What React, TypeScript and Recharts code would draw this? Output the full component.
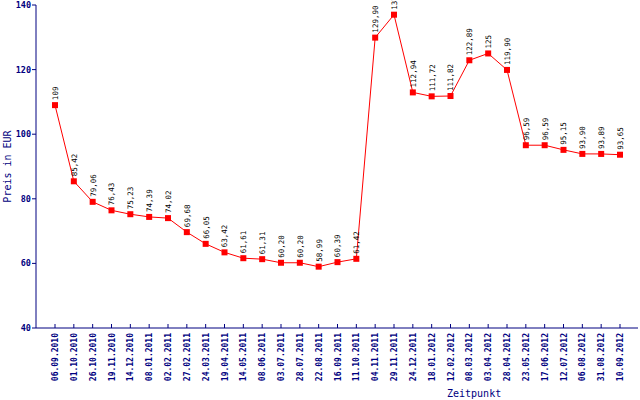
import React from 'react';
import { LineChart, Line, XAxis, YAxis, LabelList } from 'recharts';

const dates = [
  '06.09.2010', '01.10.2010', '26.10.2010', '19.11.2010', '14.12.2010', '08.01.2011',
  '02.02.2011', '27.02.2011', '24.03.2011', '19.04.2011', '14.05.2011', '08.06.2011',
  '03.07.2011', '28.07.2011', '22.08.2011', '16.09.2011', '11.10.2011', '04.11.2011',
  '29.11.2011', '24.12.2011', '18.01.2012', '12.02.2012', '08.03.2012', '03.04.2012',
  '28.04.2012', '23.05.2012', '17.06.2012', '12.07.2012', '06.08.2012', '31.08.2012',
  '10.09.2012',
];

const prices = [
  109, 85.42, 79.06, 76.43, 75.23, 74.39,
  74.02, 69.68, 66.05, 63.42, 61.61, 61.31,
  60.2, 60.2, 58.99, 60.39, 61.42, 129.9,
  137, 112.94, 111.72, 111.82, 122.89, 125,
  119.9, 96.59, 96.59, 95.15, 93.9, 93.89,
  93.65,
];

const yTicks = [40, 60, 80, 100, 120, 140];

const data = dates.map((d, i) => ({ date: d, price: prices[i] }));

const NAVY = '#000080';
const RED = '#ff0000';
const MONO = '"DejaVu Sans Mono", "Liberation Mono", monospace';

const fmt = (v: number) =>
  Number.isInteger(v) ? String(v) : v.toFixed(2).replace('.', ',');

const XTick = (props: any) => {
  const { x, y, payload } = props;
  const tx = x + 3;
  const ty = y + 5;
  return (
    <g>
      <line x1={x} y1={y} x2={x} y2={y - 4} stroke={NAVY} strokeWidth={1} />
      <text
        x={tx}
        y={ty}
        transform={`rotate(-90 ${tx} ${ty})`}
        textAnchor="end"
        fill={NAVY}
        fontFamily={MONO}
        fontSize={8}
        fontWeight="bold"
      >
        {payload.value}
      </text>
    </g>
  );
};

const YTick = (props: any) => {
  const { x, y, payload } = props;
  return (
    <g>
      <line x1={x - 4} y1={y} x2={x} y2={y} stroke={NAVY} strokeWidth={1} />
      <text
        x={x - 5}
        y={y + 3}
        textAnchor="end"
        fill={NAVY}
        fontFamily={MONO}
        fontSize={8.5}
        fontWeight="bold"
      >
        {payload.value}
      </text>
    </g>
  );
};

const DataLabel = (props: any) => {
  const { x, y, value } = props;
  const tx = x + 3;
  const ty = y - 5;
  return (
    <text
      x={tx}
      y={ty}
      transform={`rotate(-90 ${tx} ${ty})`}
      textAnchor="start"
      fill="#000000"
      fontFamily={MONO}
      fontSize={7.5}
    >
      {fmt(value)}
    </text>
  );
};

const SquareDot = (props: any) => {
  const { cx, cy, index } = props;
  return <rect key={`d${index}`} x={cx - 3} y={cy - 3} width={6} height={6} fill={RED} />;
};

const YLabel = (props: any) => {
  const vb = props.viewBox || { x: 0, y: 5, width: 36, height: 323 };
  const tx = vb.x + 11;
  const ty = vb.y + vb.height / 2;
  return (
    <text
      x={tx}
      y={ty}
      transform={`rotate(-90 ${tx} ${ty})`}
      textAnchor="middle"
      fill={NAVY}
      fontFamily={MONO}
      fontSize={10}
    >
      Preis in EUR
    </text>
  );
};

const XLabel = (props: any) => {
  const vb = props.viewBox || { x: 36, y: 328, width: 602, height: 72 };
  return (
    <text
      x={vb.x + 411}
      y={vb.y + 69}
      textAnchor="start"
      fill={NAVY}
      fontFamily={MONO}
      fontSize={10}
    >
      Zeitpunkt
    </text>
  );
};

export default function App() {
  return (
    <div style={{ position: 'absolute', left: 0, top: 0, width: 640, height: 400, background: '#fff' }}>
      <LineChart
        width={640}
        height={400}
        data={data}
        margin={{ top: 5, right: 2, left: 0, bottom: 0 }}
      >
        <XAxis
          dataKey="date"
          type="category"
          height={72}
          interval={0}
          padding={{ left: 19, right: 18 }}
          axisLine={{ stroke: NAVY }}
          tickLine={false}
          tickSize={0}
          tickMargin={0}
          tick={<XTick />}
          label={<XLabel />}
        />
        <XAxis
          xAxisId="top"
          dataKey="date"
          orientation="top"
          height={0}
          tick={false}
          tickLine={false}
          axisLine={{ stroke: NAVY }}
        />
        <YAxis
          width={36}
          domain={[40, 140]}
          ticks={yTicks}
          type="number"
          interval={0}
          axisLine={{ stroke: NAVY }}
          tickLine={false}
          tickSize={0}
          tickMargin={0}
          tick={<YTick />}
          label={<YLabel />}
        />
        <YAxis
          yAxisId="right"
          orientation="right"
          width={0}
          domain={[40, 140]}
          tick={false}
          tickLine={false}
          axisLine={{ stroke: NAVY }}
        />
        <Line
          dataKey="price"
          type="linear"
          stroke={RED}
          strokeWidth={1}
          dot={SquareDot}
          activeDot={false}
          isAnimationActive={false}
        >
          <LabelList dataKey="price" content={DataLabel} />
        </Line>
      </LineChart>
    </div>
  );
}
